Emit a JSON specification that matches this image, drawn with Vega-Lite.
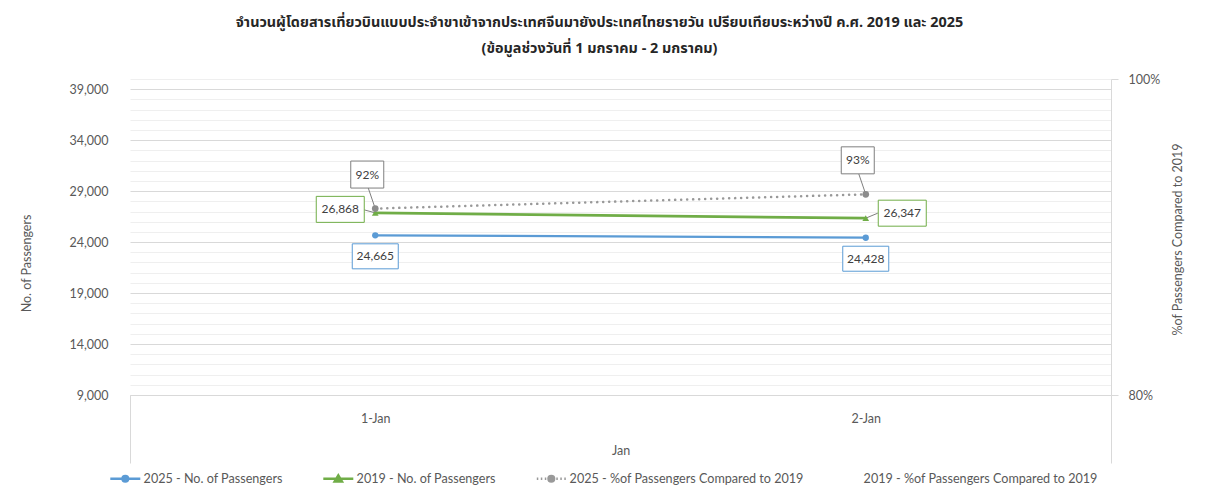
{
  "$schema": "https://vega.github.io/schema/vega-lite/v6.json",
  "width": 981,
  "height": 316,
  "autosize": {"type": "none"},
  "padding": {"left": 130, "top": 79, "right": 105, "bottom": 108},
  "background": "white",
  "config": {
    "view": {"stroke": null},
    "font": "Lato",
    "axis": {"labelFont": "Lato", "labelFontSize": 12.5, "labelColor": "#595959", "titleFont": "Lato", "titleFontSize": 12.5, "titleFontWeight": "normal", "titleColor": "#595959"},
    "legend": {"labelFont": "Lato", "labelFontSize": 12.6, "labelColor": "#595959"}
  },
  "title": {
    "text": ["จำนวนผู้โดยสารเที่ยวบินแบบประจำขาเข้าจากประเทศจีนมายังประเทศไทยรายวัน เปรียบเทียบระหว่างปี ค.ศ. 2019 และ 2025", "(ข้อมูลช่วงวันที่ 1 มกราคม - 2 มกราคม)"],
    "font": "Noto Sans Thai, Noto Sans, sans-serif",
    "fontSize": 14.4,
    "fontWeight": "bold",
    "color": "#262626",
    "anchor": "middle",
    "frame": "group",
    "dx": -21,
    "offset": 17,
    "lineHeight": 26
  },
  "datasets": {
    "daily": [
      {"date": "1-Jan", "p2025": 24665, "p2019": 26868, "pct": 0.918},
      {"date": "2-Jan", "p2025": 24428, "p2019": 26347, "pct": 0.927}
    ],
    "legend": [
      {"series": "2025 - No. of Passengers"},
      {"series": "2019 - No. of Passengers"},
      {"series": "2025 - %of Passengers Compared to 2019"},
      {"series": "2019 - %of Passengers Compared to 2019"}
    ]
  },
  "layer": [
    {
      "data": {"name": "daily"},
      "layer": [
        {
          "mark": {"type": "line", "color": "#5B9BD5", "strokeWidth": 2.25},
          "encoding": {
            "x": {"field": "date", "type": "nominal", "sort": null,
              "scale": {"type": "band", "domain": ["1-Jan", "2-Jan"], "paddingInner": 0, "paddingOuter": 0},
              "axis": {"title": "Jan", "labelAngle": 0, "tickBand": "extent", "tickSize": 68,
                "tickColor": {"condition": {"test": "datum.value == '1-Jan' && !datum.extra", "value": "transparent"}, "value": "#d9d9d9"},
                "domainColor": "#d9d9d9", "labelPadding": -51, "titleX": 490.5, "titleY": 55, "titleBaseline": "middle", "grid": false}},
            "y": {"field": "p2025", "type": "quantitative",
              "scale": {"domain": [9000, 40000], "nice": false, "zero": false},
              "axis": {"title": "No. of Passengers",
                "values": [9000, 10000, 11000, 12000, 13000, 14000, 15000, 16000, 17000, 18000, 19000, 20000, 21000, 22000, 23000, 24000, 25000, 26000, 27000, 28000, 29000, 30000, 31000, 32000, 33000, 34000, 35000, 36000, 37000, 38000, 39000, 40000],
                "tickCount": 100,
                "labelExpr": "(datum.value - 9000) % 5000 == 0 ? format(datum.value, ',') : ''",
                "labelOverlap": false,
                "grid": true,
                "gridColor": {"condition": {"test": "(datum.value - 9000) % 5000 == 0", "value": "#d9d9d9"}, "value": "#efefef"},
                "ticks": false, "domain": false, "labelPadding": 22, "labelFlush": false,
                "titleX": -104, "titleY": 184, "titleAngle": -90, "titleAlign": "center", "titleBaseline": "middle"}}
          }
        },
        {
          "mark": {"type": "line", "color": "#70AD47", "strokeWidth": 2.75},
          "encoding": {
            "x": {"field": "date", "type": "nominal", "sort": null},
            "y": {"field": "p2019", "type": "quantitative"}
          }
        },
        {
          "data": {"name": "legend"},
          "mark": {"type": "point", "opacity": 0},
          "encoding": {
            "fill": {"field": "series", "type": "nominal",
              "scale": {"domain": ["2025 - No. of Passengers", "2019 - No. of Passengers", "2025 - %of Passengers Compared to 2019", "2019 - %of Passengers Compared to 2019"], "range": ["#5B9BD5", "#70AD47", "#999999", "transparent"]},
              "legend": {"title": null, "orient": "none", "legendX": -11, "legendY": 393, "direction": "horizontal", "symbolSize": 4, "symbolOpacity": 1, "symbolStrokeWidth": 2.5, "labelOffset": 12, "columnPadding": 35, "labelLimit": 500}},
            "stroke": {"field": "series", "type": "nominal",
              "scale": {"domain": ["2025 - No. of Passengers", "2019 - No. of Passengers", "2025 - %of Passengers Compared to 2019", "2019 - %of Passengers Compared to 2019"], "range": ["#5B9BD5", "#70AD47", "#999999", "transparent"]},
              "legend": {"title": null, "orient": "none", "legendX": -11, "legendY": 393, "direction": "horizontal", "symbolSize": 4, "symbolOpacity": 1, "symbolStrokeWidth": 2.5, "labelOffset": 12, "columnPadding": 35, "labelLimit": 500}},
            "shape": {"field": "series", "type": "nominal",
              "scale": {"domain": ["2025 - No. of Passengers", "2019 - No. of Passengers", "2025 - %of Passengers Compared to 2019", "2019 - %of Passengers Compared to 2019"],
                "range": ["M-15,0H15M2.8,0A2.8,2.8,0,1,1,-2.8,0A2.8,2.8,0,1,1,2.8,0Z", "M-15,0H15M0,-3.4L3.6,2.6H-3.6Z", "M-14.5,0H-13M-10.5,0H-9M-6.5,0H-5M5,0H6.5M9,0H10.5M13,0H14.5M2.8,0A2.8,2.8,0,1,1,-2.8,0A2.8,2.8,0,1,1,2.8,0Z", "M0,0Z"]},
              "legend": {"title": null, "orient": "none", "legendX": -11, "legendY": 393, "direction": "horizontal", "symbolSize": 4, "symbolOpacity": 1, "symbolStrokeWidth": 2.5, "labelOffset": 12, "columnPadding": 35, "labelLimit": 500}}
          }
        },
        {
          "transform": [{"filter": "datum.date == '1-Jan'"}],
          "mark": {"type": "rule", "color": "#7f7f7f", "strokeWidth": 1, "x2Offset": -11, "y2Offset": -3},
          "encoding": {
            "x": {"field": "date", "type": "nominal", "sort": null},
            "x2": {"field": "date"},
            "y": {"field": "p2019", "type": "quantitative"},
            "y2": {"field": "p2019"}
          }
        },
        {
          "transform": [{"filter": "datum.date == '2-Jan'"}],
          "mark": {"type": "rule", "color": "#7f7f7f", "strokeWidth": 1, "x2Offset": 12, "y2Offset": -5},
          "encoding": {
            "x": {"field": "date", "type": "nominal", "sort": null},
            "x2": {"field": "date"},
            "y": {"field": "p2019", "type": "quantitative"},
            "y2": {"field": "p2019"}
          }
        },
        {
          "mark": {"type": "point", "shape": "M-23,-12.5H23V12.5H-23Z", "size": 4, "filled": true, "fill": "white", "stroke": "#5B9BD5", "strokeWidth": 1, "opacity": 1, "yOffset": 21},
          "encoding": {
            "x": {"field": "date", "type": "nominal", "sort": null},
            "y": {"field": "p2025", "type": "quantitative"}
          }
        },
        {
          "mark": {"type": "text", "fontSize": 12, "color": "#404040", "dy": 21, "baseline": "middle", "align": "center"},
          "encoding": {
            "x": {"field": "date", "type": "nominal", "sort": null},
            "y": {"field": "p2025", "type": "quantitative"},
            "text": {"field": "p2025", "type": "quantitative", "format": ","}
          }
        },
        {
          "transform": [{"filter": "datum.date == '1-Jan'"}],
          "mark": {"type": "point", "shape": "M-24,-13H24V13H-24Z", "size": 4, "filled": true, "fill": "white", "stroke": "#70AD47", "strokeWidth": 1, "opacity": 1, "xOffset": -35, "yOffset": -3.5},
          "encoding": {
            "x": {"field": "date", "type": "nominal", "sort": null},
            "y": {"field": "p2019", "type": "quantitative"}
          }
        },
        {
          "transform": [{"filter": "datum.date == '1-Jan'"}],
          "mark": {"type": "text", "fontSize": 12, "color": "#404040", "dx": -35, "dy": -3.5, "baseline": "middle", "align": "center"},
          "encoding": {
            "x": {"field": "date", "type": "nominal", "sort": null},
            "y": {"field": "p2019", "type": "quantitative"},
            "text": {"field": "p2019", "type": "quantitative", "format": ","}
          }
        },
        {
          "transform": [{"filter": "datum.date == '2-Jan'"}],
          "mark": {"type": "point", "shape": "M-24,-13H24V13H-24Z", "size": 4, "filled": true, "fill": "white", "stroke": "#70AD47", "strokeWidth": 1, "opacity": 1, "xOffset": 36.5, "yOffset": -5},
          "encoding": {
            "x": {"field": "date", "type": "nominal", "sort": null},
            "y": {"field": "p2019", "type": "quantitative"}
          }
        },
        {
          "transform": [{"filter": "datum.date == '2-Jan'"}],
          "mark": {"type": "text", "fontSize": 12, "color": "#404040", "dx": 36.5, "dy": -5, "baseline": "middle", "align": "center"},
          "encoding": {
            "x": {"field": "date", "type": "nominal", "sort": null},
            "y": {"field": "p2019", "type": "quantitative"},
            "text": {"field": "p2019", "type": "quantitative", "format": ","}
          }
        },
        {
          "mark": {"type": "point", "shape": "circle", "size": 40, "filled": true, "color": "#5B9BD5", "opacity": 1},
          "encoding": {
            "x": {"field": "date", "type": "nominal", "sort": null},
            "y": {"field": "p2025", "type": "quantitative"}
          }
        },
        {
          "mark": {"type": "point", "shape": "triangle-up", "size": 45, "filled": true, "color": "#70AD47", "opacity": 1},
          "encoding": {
            "x": {"field": "date", "type": "nominal", "sort": null},
            "y": {"field": "p2019", "type": "quantitative"}
          }
        }
      ]
    },
    {
      "data": {"name": "daily"},
      "layer": [
        {
          "mark": {"type": "line", "color": "#999999", "strokeWidth": 2.5, "strokeDash": [0.1, 5.9], "strokeCap": "round"},
          "encoding": {
            "x": {"field": "date", "type": "nominal", "sort": null},
            "y": {"field": "pct", "type": "quantitative",
              "scale": {"domain": [0.8, 1.0], "nice": false, "zero": false},
              "axis": {"orient": "right", "title": "%of Passengers Compared to 2019", "values": [0.8, 1.0], "format": ".0%", "grid": false,
                "tickSize": 7, "tickColor": "#d9d9d9", "domainColor": "#d9d9d9", "labelPadding": 10, "labelFlush": false,
                "titleX": 66, "titleY": 160, "titleAngle": -90, "titleAlign": "center", "titleBaseline": "middle"}}
          }
        },
        {
          "mark": {"type": "rule", "color": "#7f7f7f", "strokeWidth": 1, "x2Offset": -7, "y2Offset": -20.5},
          "encoding": {
            "x": {"field": "date", "type": "nominal", "sort": null},
            "x2": {"field": "date"},
            "y": {"field": "pct", "type": "quantitative"},
            "y2": {"field": "pct"}
          }
        },
        {
          "mark": {"type": "point", "shape": "M-16.5,-13.5H16.5V13.5H-16.5Z", "size": 4, "filled": true, "fill": "white", "stroke": "#7f7f7f", "strokeWidth": 1, "opacity": 1, "xOffset": -8, "yOffset": -34},
          "encoding": {
            "x": {"field": "date", "type": "nominal", "sort": null},
            "y": {"field": "pct", "type": "quantitative"}
          }
        },
        {
          "mark": {"type": "text", "fontSize": 12, "color": "#404040", "dx": -8, "dy": -34, "baseline": "middle", "align": "center"},
          "encoding": {
            "x": {"field": "date", "type": "nominal", "sort": null},
            "y": {"field": "pct", "type": "quantitative"},
            "text": {"field": "pct", "type": "quantitative", "format": ".0%"}
          }
        },
        {
          "mark": {"type": "point", "shape": "circle", "size": 45, "filled": true, "color": "#8c8c8c", "opacity": 1},
          "encoding": {
            "x": {"field": "date", "type": "nominal", "sort": null},
            "y": {"field": "pct", "type": "quantitative"}
          }
        }
      ]
    }
  ],
  "resolve": {"scale": {"y": "independent"}}
}
